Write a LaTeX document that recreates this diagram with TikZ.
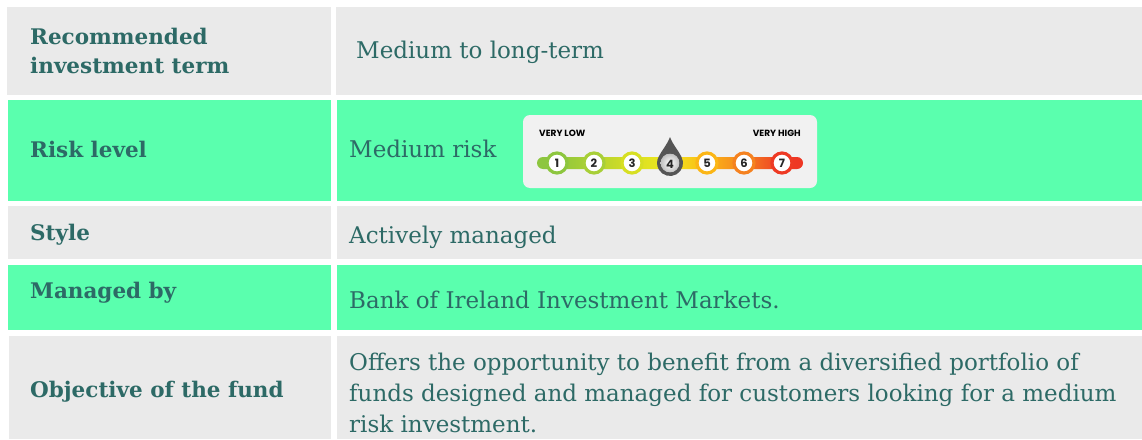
\documentclass[tikz,border=0pt]{standalone}
\usepackage{fontspec}
\setmainfont{DejaVu Serif}
\newfontfamily\scalefont{Poppins}
\usetikzlibrary{positioning}

\definecolor{cellgrey}{HTML}{EAEAEA}
\definecolor{cellgreen}{HTML}{5AFFAE}
\definecolor{inkteal}{HTML}{2D6A66}
\definecolor{panelgrey}{HTML}{F1F1F1}
\definecolor{risk1}{HTML}{8DC63F}
\definecolor{risk2}{HTML}{A8CF38}
\definecolor{risk3}{HTML}{D7DF23}
\definecolor{risk4}{HTML}{555555}
\definecolor{risk5}{HTML}{FBB616}
\definecolor{risk6}{HTML}{F58220}
\definecolor{risk7}{HTML}{EE3A24}
\definecolor{riskyellow}{HTML}{F2E81C}
\definecolor{riskred}{HTML}{ED1C24}

\pgfdeclarehorizontalshading{riskbar}{100bp}{color(0bp)=(risk1); color(28.6bp)=(risk1);
  color(42.8bp)=(risk3); color(50bp)=(riskyellow); color(57bp)=(risk5);
  color(64bp)=(risk6); color(71.2bp)=(risk7); color(100bp)=(riskred)}

\begin{document}
\begin{tikzpicture}[x=1pt, y=-1pt,
    label/.style = {anchor=base west, inner sep=0pt, text=inkteal, align=left,
                    font=\fontsize{21.5}{29}\selectfont\bfseries},
    value/.style = {anchor=base west, inner sep=0pt, text=inkteal, align=left,
                    font=\fontsize{23}{31}\selectfont},
    riskdot/.style = {circle, fill=white, line width=3.2pt, minimum size=20pt, inner sep=0pt,
                      text=black!85, font=\scalefont\fontsize{11.5}{11.5}\selectfont\bfseries},
    scaletag/.style = {inner sep=0pt, text=black, font=\scalefont\fontsize{9}{9}\selectfont\bfseries}]
    \useasboundingbox (0,0) rectangle (1142,439);

    % table cells
    \fill[cellgrey]  (7,7)    rectangle (331,95);
    \fill[cellgrey]  (336,7)  rectangle (1142,95);
    \fill[cellgreen] (8,100)  rectangle (331,201);
    \fill[cellgreen] (337,100) rectangle (1142,201);
    \fill[cellgrey]  (8,206)  rectangle (331,259);
    \fill[cellgrey]  (337,206) rectangle (1142,259);
    \fill[cellgreen] (8,265)  rectangle (331,330);
    \fill[cellgreen] (337,265) rectangle (1142,330);
    \fill[cellgrey]  (9,336)  rectangle (331,439);
    \fill[cellgrey]  (337,336) rectangle (1142,439);

    % base of a two-line node is its last line
    \node[label] (term)    at (30,73)  {Recommended\\investment term};
    \node[value] (termval) at (356,58) {Medium to long-term};
    \node[label] (risk)    at (30,157) {Risk level};
    \node[value] (riskval) at (349,157) {Medium risk};
    \node[label] (style)   at (30,240) {Style};
    \node[value] (styleval) at (349,243) {Actively managed};
    \node[label] (manager) at (30,298) {Managed by};
    \node[value] (managerval) at (349,308) {Bank of Ireland Investment Markets.};
    \node[label] (aim)     at (30,397) {Objective of the fund};
    \node[value] (aimval)  at (349,432) {Offers the opportunity to benefit from a diversified portfolio of\\funds designed and managed for customers looking for a medium\\risk investment.};

    % risk scale
    \fill[panelgrey, rounded corners=7pt] (523,115) rectangle (817,188);
    \node[scaletag, anchor=base west] (low)  at (539,136) {VERY LOW};
    \node[scaletag, anchor=base east] (high) at (801,136) {VERY HIGH};
    \shade[shading=riskbar, rounded corners=6pt] (537,157) rectangle (803,169);

    \fill[risk4] (670,137) .. controls (673,145) and (678,150) .. (681.3,156.5)
                 arc[start angle=-30, end angle=210, radius=13]
                 .. controls (662,150) and (667,145) .. cycle;
    \fill[inner color=white, outer color=black!25] (670,163) circle[radius=9.5];

    \node[riskdot, draw=risk1] (r1) at (557,163) {1};
    \node[riskdot, draw=risk2] (r2) at (594,163) {2};
    \node[riskdot, draw=risk3] (r3) at (632,163) {3};
    \node[inner sep=0pt, text=black!85, font=\scalefont\fontsize{11.5}{11.5}\selectfont\bfseries] (r4) at (670,164) {4};
    \node[riskdot, draw=risk5] (r5) at (707,163) {5};
    \node[riskdot, draw=risk6] (r6) at (744,163) {6};
    \node[riskdot, draw=risk7] (r7) at (782,163) {7};
\end{tikzpicture}
\end{document}
